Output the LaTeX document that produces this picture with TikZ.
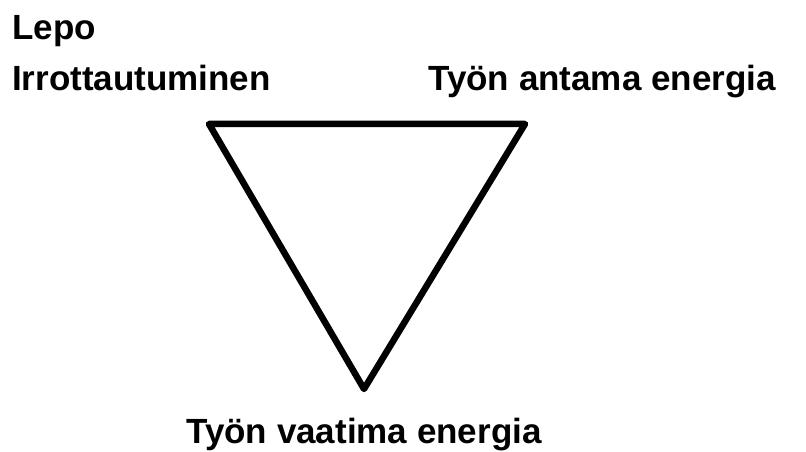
\documentclass[tikz,border=0pt]{standalone}
\usepackage{fontspec}
\setmainfont{Liberation Sans}
\tikzset{
  lbl/.style={font=\bfseries\fontsize{35}{41}\selectfont, inner sep=0pt},
  tri/.style={line width=6.5pt, line join=round}
}
\begin{document}
\begin{tikzpicture}[x=1pt,y=1pt]
\useasboundingbox (0,0) rectangle (806,452);
\node[lbl, anchor=base west] (lepo) at (12,412) {Lepo};
\node[lbl, anchor=base west] (irr) at (12,361) {Irrottautuminen};
\node[lbl, anchor=base east] (anta) at (776,361) {Työn antama energia};
\node[lbl, anchor=base] (vaat) at (364,8) {Työn vaatima energia};
\coordinate (tl) at (209,328);
\coordinate (tr) at (525,328);
\coordinate (b) at (364,63);
\draw[tri] (tl) -- (tr) -- (b) -- cycle;
\end{tikzpicture}
\end{document}
